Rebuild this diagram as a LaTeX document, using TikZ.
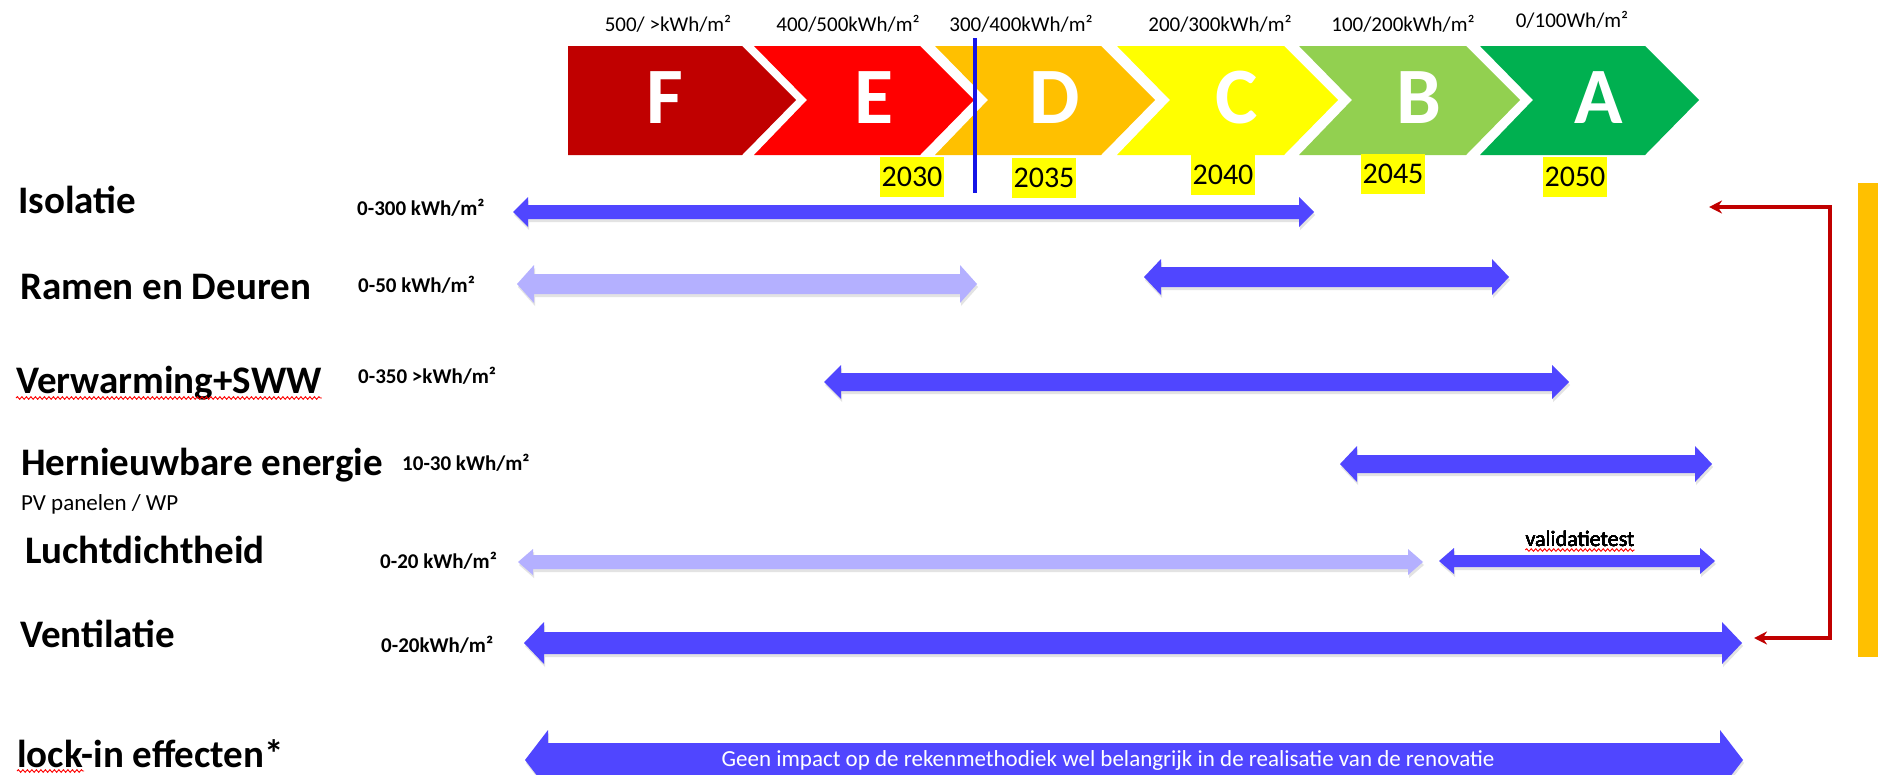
\documentclass[tikz,border=0pt]{standalone}
\usepackage{fontspec}
\setmainfont{Carlito}
\usetikzlibrary{arrows.meta,shadows,decorations.pathmorphing}

\definecolor{cF}{RGB}{192,0,0}
\definecolor{cE}{RGB}{255,0,0}
\definecolor{cD}{RGB}{255,192,0}
\definecolor{cC}{RGB}{255,255,0}
\definecolor{cB}{RGB}{146,208,80}
\definecolor{cA}{RGB}{0,176,80}
\definecolor{arrD}{RGB}{80,70,255}
\definecolor{arrL}{RGB}{180,176,255}
\definecolor{nowblue}{RGB}{20,20,230}
\definecolor{fbred}{RGB}{192,0,0}
\definecolor{barorange}{RGB}{255,192,0}

% x1, x2, y, half shaft, half head, head length, colour
\newcommand{\bararrow}[7]{%
	\fill[#7,drop shadow={shadow xshift=1pt,shadow yshift=-3pt,opacity=.22}]
		(#1,#3) -- ({#1+#6},{#3-#5}) -- ({#1+#6},{#3-#4}) -- ({#2-#6},{#3-#4}) -- ({#2-#6},{#3-#5}) -- (#2,#3)
		-- ({#2-#6},{#3+#5}) -- ({#2-#6},{#3+#4}) -- ({#1+#6},{#3+#4}) -- ({#1+#6},{#3+#5}) -- cycle;}

\begin{document}
\begin{tikzpicture}[x=1pt,y=-1pt,
	letter/.style={text=white,font=\fontsize{80}{80}\selectfont\bfseries,inner sep=0},
	rangelbl/.style={font=\fontsize{21}{24}\selectfont,anchor=base,inner sep=0},
	yearbox/.style={fill=cC,font=\fontsize{30}{30}\selectfont,inner sep=0,minimum width=64,minimum height=40},
	rowtitle/.style={font=\fontsize{39}{42}\selectfont\bfseries,anchor=base west,inner sep=0},
	kwh/.style={font=\fontsize{21}{24}\selectfont\bfseries,anchor=base west,inner sep=0},
	spell/.style={draw=red,line width=.9pt,decorate,decoration={snake,amplitude=1.3pt,segment length=4.5pt}},
	fb/.style={draw=fbred,line width=3.5pt,line join=miter,{Stealth[length=13pt,width=13pt]}-{Stealth[length=13pt,width=13pt]}}]
	\useasboundingbox (0,0) rectangle (1878,774);
	\fill[white] (0,0) rectangle (1878,774);

	% energy label
	\foreach \xa/\xb/\col/\lt [count=\n] in {568/742/cF/F,754/920/cE/E,935/1101/cD/D,1117/1284/cC/C,1299/1466/cB/B,1480/1645/cA/A}{
		\pgfmathsetmacro\nd{\n==1 ? 0 : 53}
		\fill[\col] (\xa,46) -- (\xb,46) -- ({\xb+54},100) -- (\xb,155) -- (\xa,155) -- ({\xa+\nd},100) -- cycle;
		\node[letter] (L\lt) at ({(\xa+\nd+\xb)/2+10},98) {\lt};
	}
	\foreach \xx/\yy/\txt [count=\n] in {668/31/{500/ >kWh/m²},848/31/{400/500kWh/m²},1021/31/{300/400kWh/m²},1220/31/{200/300kWh/m²},1403/31/{100/200kWh/m²},1572/27/{0/100Wh/m²}}
		\node[rangelbl] (R\n) at (\xx,\yy) {\txt};
	\foreach \xx/\yy/\yr [count=\n] in {912/177/2030,1044/178/2035,1223/175/2040,1393/174/2045,1575/177/2050}
		\node[yearbox] (Y\n) at (\xx,\yy) {\yr};
	\draw[nowblue,line width=3.5pt] (975,38) -- (975,193);

	% rows
	\foreach \xx/\yy/\nm/\txt in {18/213/iso/Isolatie,20/299/ram/Ramen en Deuren,16/393/verw/Verwarming+SWW,21/475/hern/Hernieuwbare energie,25/563/lucht/Luchtdichtheid,20/647/vent/Ventilatie,17/767/lock/lock-in effecten*}
		\node[rowtitle] (\nm) at (\xx,\yy) {\txt};
	\node[font=\fontsize{23}{26}\selectfont,anchor=base west,inner sep=0] (pv) at (21,510) {PV panelen / WP};
	\foreach \xx/\yy/\txt [count=\n] in {357/215/{0-300 kWh/m²},358/292/{0-50 kWh/m²},358/383/{0-350 >kWh/m²},402/470/{10-30 kWh/m²},380/568/{0-20 kWh/m²},381/652/{0-20kWh/m²}}
		\node[kwh] (K\n) at (\xx,\yy) {\txt};

	% bars
	\foreach \xa/\xb/\yy/\sh/\hh/\hl/\col in {513/1314/212/7/15/15/arrD,517/977/284/10/19/17/arrL,1144/1509/277/10/18/17/arrD,824/1569/382/9/17/17/arrD,1340/1712/464/9/18/17/arrD,518/1423/562/7/13/15/arrL,1439/1715/561/6/13/15/arrD,524/1742/643/11/21/20/arrD,525/1743/760/17/30/23/arrD}
		\bararrow{\xa}{\xb}{\yy}{\sh}{\hh}{\hl}{\col}
	\node[font=\fontsize{22}{24}\selectfont,anchor=base,inner sep=0] (val) at (1580,546) {validatietest};
	\node[text=white,font=\fontsize{23}{25}\selectfont,anchor=base,inner sep=0] (imp) at (1108,766) {Geen impact op de rekenmethodiek wel belangrijk in de realisatie van de renovatie};

	\draw[spell] ([yshift=-5pt]verw.base west) -- ([yshift=-5pt]verw.base east);
	\draw[spell] ([yshift=-4pt]lock.base west) -- ++(67,0);
	\draw[spell] ([yshift=-4pt]val.base west) -- ([yshift=-4pt]val.base east);

	% feedback
	\coordinate (isoR) at (1709,207);
	\coordinate (ventR) at (1754,638);
	\coordinate (rail) at (1830,0);
	\draw[fb] (isoR) -- (isoR -| rail) -- (ventR -| rail) -- (ventR);
	\fill[barorange] (1858,183) rectangle (1878,657);
\end{tikzpicture}
\end{document}
